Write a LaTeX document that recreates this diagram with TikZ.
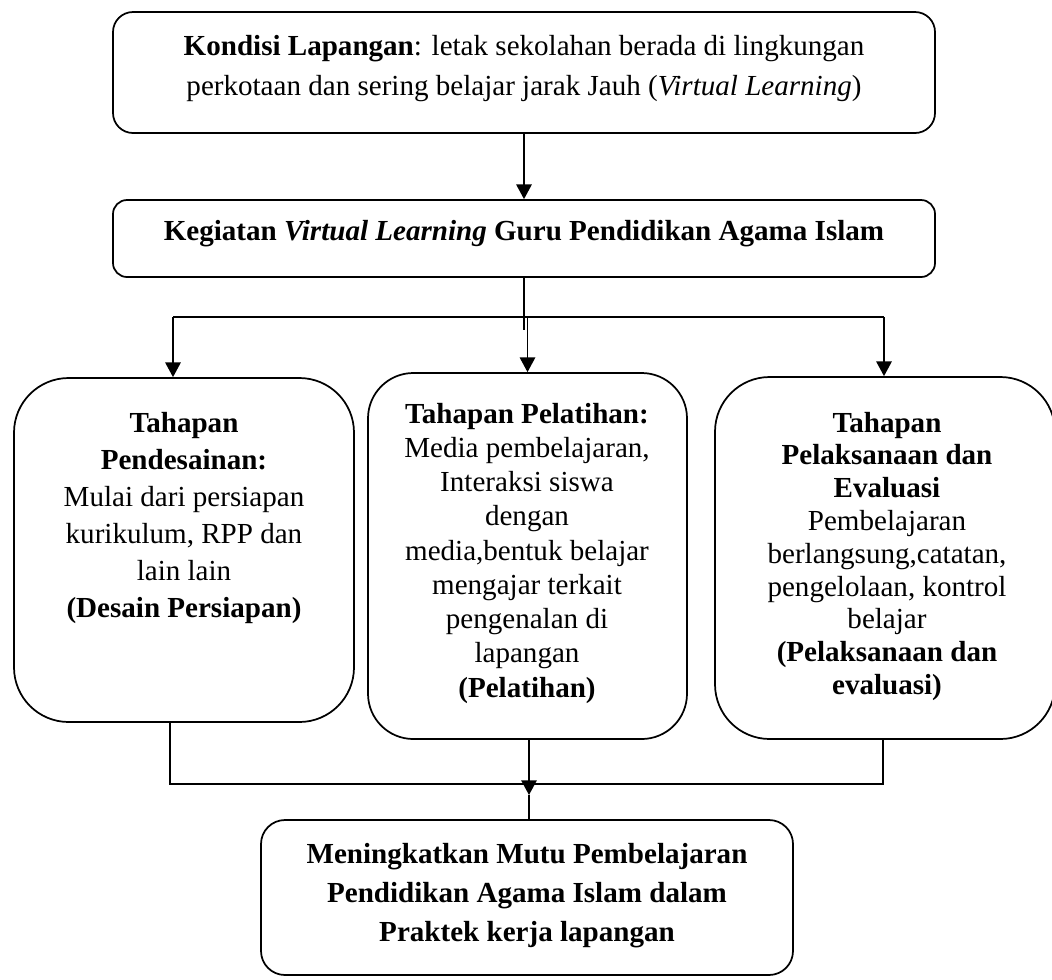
\documentclass[tikz,border=0pt]{standalone}
\usepackage{fontspec}
\setmainfont{Liberation Serif}
\usetikzlibrary{arrows.meta}
\begin{document}
\begin{tikzpicture}[x=0.75pt,y=-0.75pt,
  rbox/.style={draw, line width=1.3pt, inner sep=0pt, rectangle},
  conn/.style={line width=1.3pt},
  arrowed/.style={line width=1.3pt, -{Triangle[length=11pt,width=11.5pt]}},
  txt/.style={anchor=base, inner sep=0pt}]
\useasboundingbox (0,0) rectangle (1052,979);
% boxes
\node[rbox, rounded corners=15pt, minimum width={822*0.75pt}, minimum height={121*0.75pt}] (top) at (524,72.5) {};
\node[rbox, rounded corners=10.5pt, minimum width={822*0.75pt}, minimum height={77*0.75pt}] (keg) at (524,238.5) {};
\node[rbox, rounded corners=41pt, minimum width={340*0.75pt}, minimum height={344*0.75pt}] (b1) at (184,550) {};
\node[rbox, rounded corners=34pt, minimum width={319*0.75pt}, minimum height={366*0.75pt}] (b2) at (527.5,556) {};
\node[rbox, rounded corners=41pt, minimum width={340*0.75pt}, minimum height={362*0.75pt}] (b3) at (885,558) {};
\node[rbox, rounded corners=18pt, minimum width={532*0.75pt}, minimum height={155*0.75pt}] (fin) at (527,897.5) {};
% texts
\node[txt, font=\fontsize{21.8}{30}\selectfont] (toptext) at (524,55)
  {\begin{tabular}[t]{@{}c@{}}\textbf{Kondisi Lapangan}: letak sekolahan berada di lingkungan\\ perkotaan dan sering belajar jarak Jauh (\textit{Virtual Learning})\end{tabular}};
\node[txt, font=\fontsize{21.8}{30}\selectfont\bfseries] (kegtext) at (524,240)
  {Kegiatan \textit{Virtual Learning} Guru Pendidikan Agama Islam};
\node[txt, font=\fontsize{21.8}{27.75}\selectfont] (b1text) at (184,432)
  {\begin{tabular}[t]{@{}c@{}}\textbf{Tahapan}\\ \textbf{Pendesainan:}\\ Mulai dari persiapan\\ kurikulum, RPP dan\\ lain lain\\ \textbf{(Desain Persiapan)}\end{tabular}};
\node[txt, font=\fontsize{21.8}{25.7}\selectfont] (b2text) at (527,423)
  {\begin{tabular}[t]{@{}c@{}}\textbf{Tahapan Pelatihan:}\\ Media pembelajaran,\\ Interaksi siswa\\ dengan\\ media,bentuk belajar\\ mengajar terkait\\ pengenalan di\\ lapangan\\ \textbf{(Pelatihan)}\end{tabular}};
\node[txt, font=\fontsize{21.8}{24.6}\selectfont] (b3text) at (887,432)
  {\begin{tabular}[t]{@{}c@{}}\textbf{Tahapan}\\ \textbf{Pelaksanaan dan}\\ \textbf{Evaluasi}\\ Pembelajaran\\ berlangsung,catatan,\\ pengelolaan, kontrol\\ belajar\\ \textbf{(Pelaksanaan dan}\\ \textbf{evaluasi)}\end{tabular}};
\node[txt, font=\fontsize{21.8}{29.6}\selectfont\bfseries] (fintext) at (527,863)
  {\begin{tabular}[t]{@{}c@{}}Meningkatkan Mutu Pembelajaran\\ Pendidikan Agama Islam dalam\\ Praktek kerja lapangan\end{tabular}};
% connectors
\draw[arrowed] (top.south) -- (keg.north);
\coordinate (kstub) at (524,330);
\draw[conn] (keg.south) -- (kstub);
\coordinate (busL) at (173,317);
\coordinate (busR) at (884,317);
\draw[conn] (busL) -- (busR);
\draw[arrowed] (busL) -- (busL |- b1.north);
\draw[arrowed] (busL -| b2.north) -- (b2.north);
\draw[arrowed] (busR) -- (busR |- b3.north);
\coordinate (jL) at (170,784);
\coordinate (jR) at (883,784);
\draw[conn] (b1.south -| jL) -- (jL) -- (jR) -- (jR |- b3.south);
\coordinate (tip) at (529,795);
\draw[arrowed] (b2.south -| tip) -- (tip);
\draw[conn] (tip) -- (fin.north -| tip);
\end{tikzpicture}
\end{document}
